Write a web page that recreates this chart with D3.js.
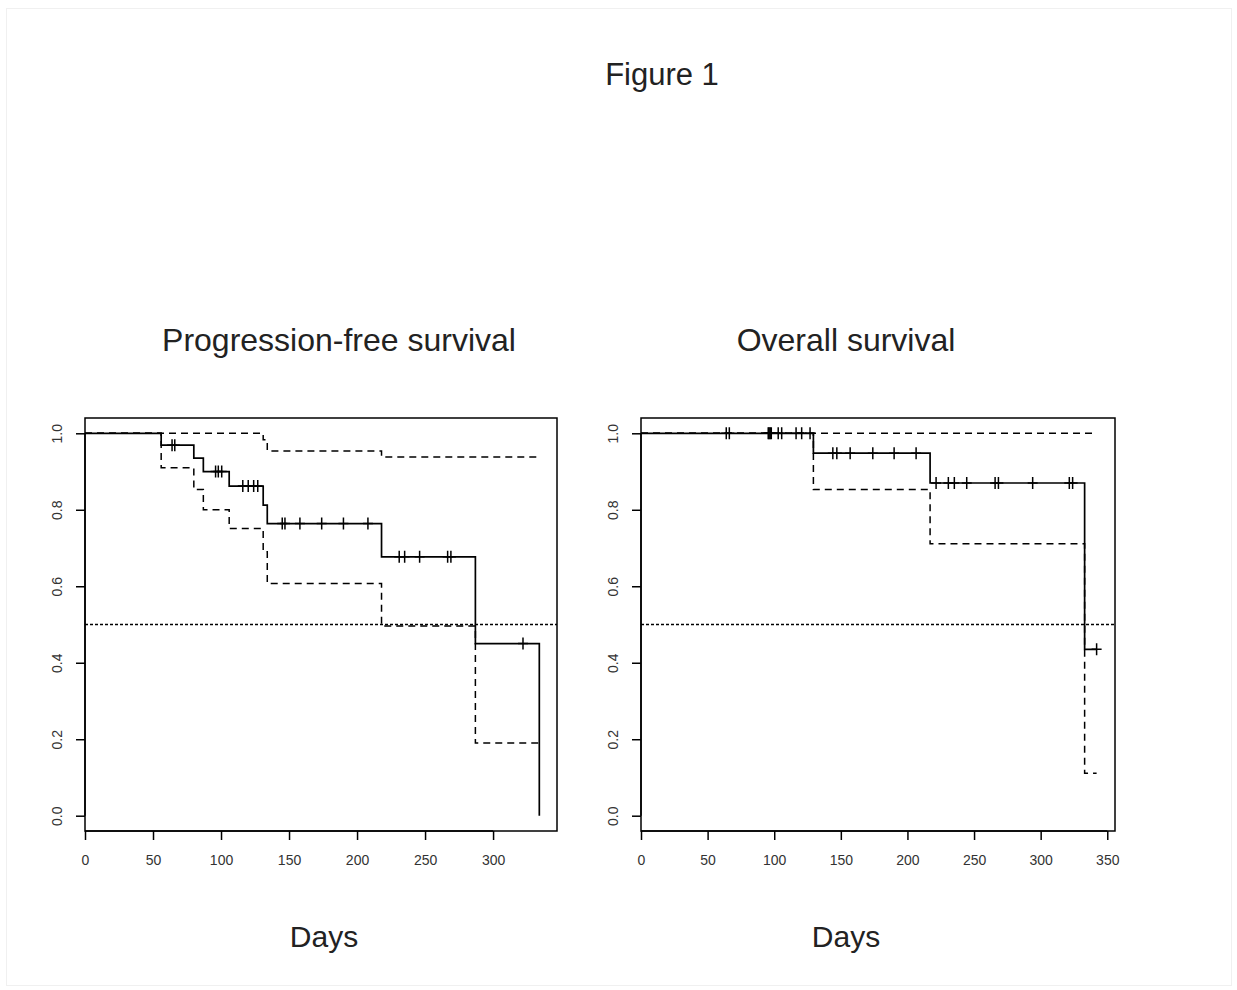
<!DOCTYPE html>
<html><head><meta charset="utf-8">
<script src="https://cdn.jsdelivr.net/npm/d3@7"></script>
<style>body{margin:0;background:#fff}svg{display:block}text{font-family:"Liberation Sans",Arial,sans-serif}</style>
</head><body>
<script>
// ---------- data ----------
const pfsTime  = [0, 56, 80, 87, 106, 131, 134, 218, 287, 334];
const pfsSurv  = [1, 0.969, 0.935, 0.900, 0.862, 0.812, 0.764, 0.677, 0.450, 0];
const pfsUpTime = [0, 131, 134, 218];
const pfsUpper  = [1, 0.983, 0.954, 0.938];
const pfsLoTime = [0, 56, 80, 87, 106, 131, 134, 218, 287];
const pfsLower  = [1, 0.910, 0.853, 0.800, 0.751, 0.690, 0.607, 0.496, 0.190];
const pfsEnd = 334;
const pfsCensor = [64, 66, 96, 98, 100.5, 116, 120, 124, 127, 145, 147, 158, 174, 190, 208, 231, 235, 246, 266.6, 269, 322];

const osTime  = [0, 129.4, 217, 333];
const osSurv  = [1, 0.948, 0.870, 0.435];
const osUpTime = [0];
const osUpper  = [1];
const osLoTime = [0, 129.4, 217, 333];
const osLower  = [1, 0.853, 0.711, 0.111];
const osEnd = 342;
const osCensor = [64, 66.3, 95.5, 96.2, 97, 97.8, 103, 105.6, 116.4, 120.6, 126.9, 144, 147, 157, 174, 190, 206.5, 221.5, 230.7, 235.2, 244.5, 265.8, 268.3, 294, 321.5, 324, 342];

const pfsXTicks = [0, 50, 100, 150, 200, 250, 300];
const osXTicks  = [0, 50, 100, 150, 200, 250, 300, 350];
const yTicks = [0, 0.2, 0.4, 0.6, 0.8, 1.0];

const W = 1237, H = 990;
const svg = d3.select("body").append("svg").attr("width", W).attr("height", H);

svg.append("rect").attr("x", 6.5).attr("y", 8.5).attr("width", 1225).attr("height", 977)
  .attr("fill", "none").attr("stroke", "#f0f0f0");

svg.append("text").attr("x", 662).attr("y", 85).attr("text-anchor", "middle")
  .attr("font-size", 31).attr("fill", "#222").text("Figure 1");

function stepPoints(times, vals, end) {
  const pts = [];
  for (let i = 0; i < times.length; i++) {
    if (i > 0) pts.push([times[i], vals[i - 1]]);
    pts.push([times[i], vals[i]]);
  }
  pts.push([end, vals[vals.length - 1]]);
  return pts;
}
function survAt(times, vals, t) {
  let v = vals[0];
  for (let i = 0; i < times.length; i++) if (times[i] <= t) v = vals[i];
  return v;
}

function panel(opts) {
  const x = d3.scaleLinear().domain([0, opts.xmax]).range([opts.x0, opts.x1]);
  const y = d3.scaleLinear().domain([-0.04, 1.04]).range([831, 418]);
  const g = svg.append("g");

  const line = d3.line().x(d => x(d[0])).y(d => y(d[1]));

  // reference line at 0.5
  g.append("line").attr("x1", opts.x0).attr("x2", opts.x1)
    .attr("y1", y(0.5)).attr("y2", y(0.5))
    .attr("stroke", "#000").attr("stroke-width", 1.3).attr("stroke-dasharray", "3,2");

  // CI lines
  g.append("path").attr("d", line(stepPoints(opts.upT, opts.up, opts.end)))
    .attr("fill", "none").attr("stroke", "#000").attr("stroke-width", 1.5).attr("stroke-dasharray", "7,5");
  g.append("path").attr("d", line(stepPoints(opts.loT, opts.lo, opts.end)))
    .attr("fill", "none").attr("stroke", "#000").attr("stroke-width", 1.5).attr("stroke-dasharray", "7,5");

  // KM curve
  const lastT = opts.time[opts.time.length - 1];
  const kmEnd = Math.max(lastT, opts.censorEnd);
  g.append("path").attr("d", line(stepPoints(opts.time, opts.surv, kmEnd)))
    .attr("fill", "none").attr("stroke", "#000").attr("stroke-width", 1.7);

  // censor marks
  g.selectAll(".cens").data(opts.censor).join("path")
    .attr("d", d => {
      const cx = x(d), cy = y(survAt(opts.time, opts.surv, d));
      return `M${cx},${cy - 6}V${cy + 6}M${cx - 5},${cy}H${cx + 5}`;
    })
    .attr("stroke", "#000").attr("stroke-width", 1.5).attr("fill", "none");

  // box
  g.append("rect").attr("x", opts.x0).attr("y", 418).attr("width", opts.x1 - opts.x0).attr("height", 413)
    .attr("fill", "none").attr("stroke", "#000").attr("stroke-width", 1.5);

  // axes
  const xa = g.append("g").attr("transform", "translate(0,831)")
    .call(d3.axisBottom(x).tickValues(opts.xTicks).tickSize(9).tickPadding(15).tickFormat(d3.format("d")));
  xa.select(".domain").attr("d", `M${x(opts.xTicks[0])},0H${x(opts.xTicks[opts.xTicks.length-1])}`).attr("stroke-width", 1.5);
  xa.selectAll(".tick line").attr("stroke-width", 1.5);
  xa.selectAll("text").attr("font-size", 14).attr("fill", "#333").attr("font-family", "Liberation Sans, Arial, sans-serif");

  const ya = g.append("g").attr("transform", `translate(${opts.x0},0)`)
    .call(d3.axisLeft(y).tickValues(yTicks).tickSize(9).tickFormat(d3.format(".1f")));
  ya.select(".domain").attr("d", `M0,${y(0)}V${y(1)}`).attr("stroke-width", 1.5);
  ya.selectAll(".tick line").attr("stroke-width", 1.5);
  ya.selectAll("text").attr("font-size", 14).attr("fill", "#333")
    .attr("font-family", "Liberation Sans, Arial, sans-serif")
    .attr("text-anchor", "middle").attr("x", 0).attr("dy", 0)
    .attr("transform", "translate(-28,0) rotate(-90)")
    .attr("y", 5);

  // title & xlabel
  svg.append("text").attr("x", opts.titleX).attr("y", 351).attr("text-anchor", "middle")
    .attr("font-size", 32).attr("fill", "#222").text(opts.title);
  svg.append("text").attr("x", opts.labelX).attr("y", 947).attr("text-anchor", "middle")
    .attr("font-size", 30).attr("fill", "#222").text("Days");
}

panel({x0: 85, x1: 557, xmax: 347, time: pfsTime, surv: pfsSurv, upT: pfsUpTime, up: pfsUpper,
  loT: pfsLoTime, lo: pfsLower, end: pfsEnd, censor: pfsCensor, censorEnd: 334, xTicks: pfsXTicks,
  title: "Progression-free survival", titleX: 339, labelX: 324});
panel({x0: 641, x1: 1115, xmax: 355.8, time: osTime, surv: osSurv, upT: osUpTime, up: osUpper,
  loT: osLoTime, lo: osLower, end: osEnd, censor: osCensor, censorEnd: 342, xTicks: osXTicks,
  title: "Overall survival", titleX: 846, labelX: 846});
</script>
</body></html>
